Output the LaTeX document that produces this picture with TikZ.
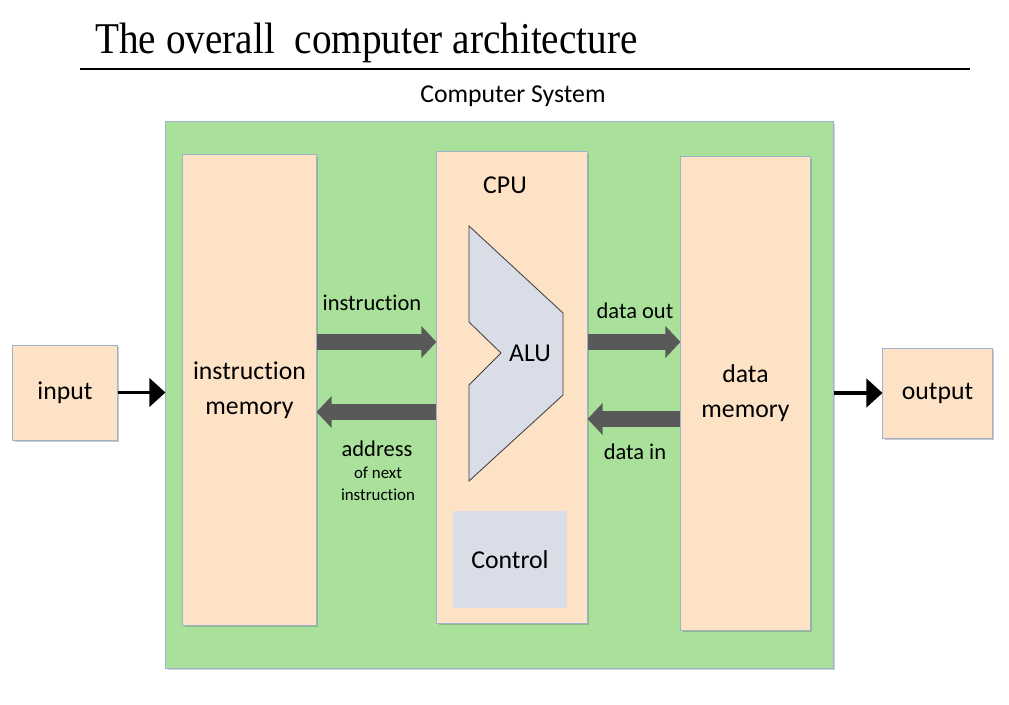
\documentclass[tikz,border=0pt]{standalone}
\usepackage{fontspec}
\setmainfont{Carlito}[Ligatures=NoCommon]
\newfontfamily\titlefont{Liberation Serif}
\usetikzlibrary{arrows.meta,shadows}
\definecolor{sysgreen}{RGB}{169,225,155}
\definecolor{peach}{RGB}{253,226,197}
\definecolor{boxedge}{RGB}{158,178,204}
\definecolor{alugrey}{RGB}{217,221,232}
\definecolor{busgrey}{RGB}{89,89,89}
\newcommand{\boxfont}{\fontsize{18.3}{25}\selectfont}
\newcommand{\busfont}{\fontsize{16}{19}\selectfont}
\newcommand{\tinyfont}{\fontsize{12}{15.5}\selectfont}
\tikzset{%
    unit/.style={draw=boxedge, fill=peach, line width=0.7pt, inner sep=0pt, align=center,
        drop shadow={shadow xshift=0.06cm, shadow yshift=-0.06cm, opacity=0.35, fill=black!60}},
    bus/.style={line width=0.4cm, color=busgrey, -{Triangle[length=0.38cm, width=0.78cm]}},
    link/.style={line width=2.8pt, -{Triangle[length=0.4cm, width=0.7cm]}}
}
\begin{document}
\begin{tikzpicture}[x=0.025cm, y=-0.025cm, font=\boxfont]
    \useasboundingbox (0,0) rectangle (1009,705);
    \node[anchor=base west, inner sep=0pt, font=\titlefont\fontsize{27.9}{30}\selectfont] (title) at (95,53)
        {\scalebox{1}[1.12]{The overall\ \ computer architecture}};
    \draw[line width=1.4pt] (80,69) -- (970,69);
    \node (syslbl) at (513,96) {Computer System};
    % the computer system
    \node[draw=boxedge, fill=sysgreen, line width=0.7pt, minimum width=16.675cm, minimum height=13.65cm,
        drop shadow={shadow xshift=0.06cm, shadow yshift=-0.06cm, opacity=0.3, fill=black!60}] (sys) at (499.5,395) {};
    \node[unit, minimum width=3.325cm, minimum height=11.75cm] (imem) at (249.5,390) {instruction\\memory};
    \node[unit, minimum width=3.75cm, minimum height=11.775cm] (cpu) at (512,387.5) {};
    \node[unit, minimum width=3.225cm, minimum height=11.825cm] (dmem) at (745.5,393.5) {data\\memory};
    \node (cpulbl) at (505,185) {CPU};
    \draw[draw=black!75, fill=alugrey, line width=0.6pt] (469,226) -- (563,313) -- (563,395) -- (469,481)
        -- (469,385) -- (501,353) -- (469,322) -- cycle;
    \node (alu) at (530,353) {ALU};
    \node[fill=alugrey, minimum width=2.85cm, minimum height=2.425cm] (ctrl) at (510,559.5) {Control};
    % input and output
    \node[unit, minimum width=2.6cm, minimum height=2.375cm] (input) at (65,392.5) {input};
    \node[unit, minimum width=2.725cm, minimum height=2.25cm] (output) at (937.5,393) {output};
    \draw[link] (input.east) -- (input.east -| sys.west);
    \draw[link] (sys.east |- output.west) -- (output.west);
    % buses
    \coordinate (yinstr) at (0,342);
    \coordinate (yaddr) at (0,412);
    \coordinate (yout) at (0,342);
    \coordinate (yin) at (0,419);
    \draw[bus] (imem.east |- yinstr) -- (cpu.west |- yinstr);
    \draw[bus] (cpu.west |- yaddr) -- (imem.east |- yaddr);
    \draw[bus] (cpu.east |- yout) -- (dmem.west |- yout);
    \draw[bus] (dmem.west |- yin) -- (cpu.east |- yin);
    \node[font=\busfont] (instrlbl) at (372,303) {instruction};
    \node[font=\busfont] (addrlbl) at (377,449) {address};
    \node[font=\tinyfont, align=center] (nextlbl) at (378,484) {of next\\instruction};
    \node[font=\busfont] (outlbl) at (635,311) {data out};
    \node[font=\busfont] (inlbl) at (635,452) {data in};
\end{tikzpicture}
\end{document}
